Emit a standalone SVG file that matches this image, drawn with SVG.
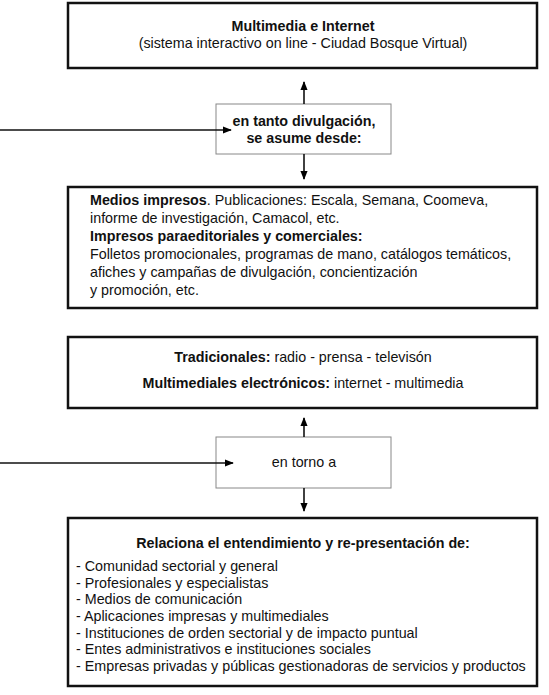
<svg xmlns="http://www.w3.org/2000/svg" width="549" height="695" viewBox="0 0 549 695">
<defs>
<marker id="ah" viewBox="0 0 10 10" refX="9" refY="5" markerWidth="9" markerHeight="9" markerUnits="userSpaceOnUse" orient="auto">
<path d="M0,1 L10,5 L0,9 Z" fill="#000"/>
</marker>
</defs>
<style>
text{font-family:"Liberation Sans",Arial,sans-serif;font-size:14.3px;fill:#111}
.b{font-weight:bold}
.main{fill:#fff;stroke:#111;stroke-width:2.5}
.mid{fill:#fff;stroke:#888;stroke-width:1}
.c{text-anchor:middle}
.con line{stroke:#111;stroke-width:1.6;marker-end:url(#ah)}
</style>
<rect width="549" height="695" fill="#fff"/>
<g id="multimedia">
<rect class="main" x="68" y="3" width="469" height="65"/>
<text class="c b" x="303" y="31">Multimedia e Internet</text>
<text class="c" x="303" y="48">(sistema interactivo on line - Ciudad Bosque Virtual)</text>
</g>
<g id="divulgacion">
<rect class="mid" x="216" y="104" width="175" height="50"/>
<text class="c b" x="304" y="126">en tanto divulgación,</text>
<text class="c b" x="304" y="143">se asume desde:</text>
</g>
<g id="impresos">
<rect class="main" x="68" y="187" width="469" height="121"/>
<text x="90" y="205"><tspan class="b">Medios impresos</tspan>. Publicaciones: Escala, Semana, Coomeva,</text>
<text x="90" y="223">informe de investigación, Camacol, etc.</text>
<text class="b" x="90" y="241">Impresos paraeditoriales y comerciales:</text>
<text x="90" y="259">Folletos promocionales, programas de mano, catálogos temáticos,</text>
<text x="90" y="277">afiches y campañas de divulgación, concientización</text>
<text x="90" y="295">y promoción, etc.</text>
</g>
<g id="tradicionales">
<rect class="main" x="68" y="337" width="469" height="71"/>
<text class="c" x="303" y="362"><tspan class="b">Tradicionales:</tspan> radio - prensa - televisón</text>
<text class="c" x="303" y="388"><tspan class="b">Multimediales electrónicos:</tspan> internet - multimedia</text>
</g>
<g id="entorno">
<rect class="mid" x="216" y="437" width="175" height="51"/>
<text class="c" x="304" y="467">en torno a</text>
</g>
<g id="relaciona">
<rect class="main" x="68" y="518" width="469" height="168"/>
<text class="c b" x="303" y="548">Relaciona el entendimiento y re-presentación de:</text>
<text x="76" y="571">- Comunidad sectorial y general</text>
<text x="76" y="588">- Profesionales y especialistas</text>
<text x="76" y="604">- Medios de comunicación</text>
<text x="76" y="621">- Aplicaciones impresas y multimediales</text>
<text x="76" y="638">- Instituciones de orden sectorial y de impacto puntual</text>
<text x="76" y="654">- Entes administrativos e instituciones sociales</text>
<text x="76" y="671">- Empresas privadas y públicas gestionadoras de servicios y productos</text>
</g>
<g id="connectors" class="con">
<line x1="304" y1="104" x2="304" y2="82"/>
<line x1="0" y1="130" x2="231" y2="130"/>
<line x1="304" y1="154" x2="304" y2="179"/>
<line x1="304" y1="437" x2="304" y2="418"/>
<line x1="0" y1="463" x2="233" y2="463"/>
<line x1="304" y1="488" x2="304" y2="511"/>
</g>
</svg>
